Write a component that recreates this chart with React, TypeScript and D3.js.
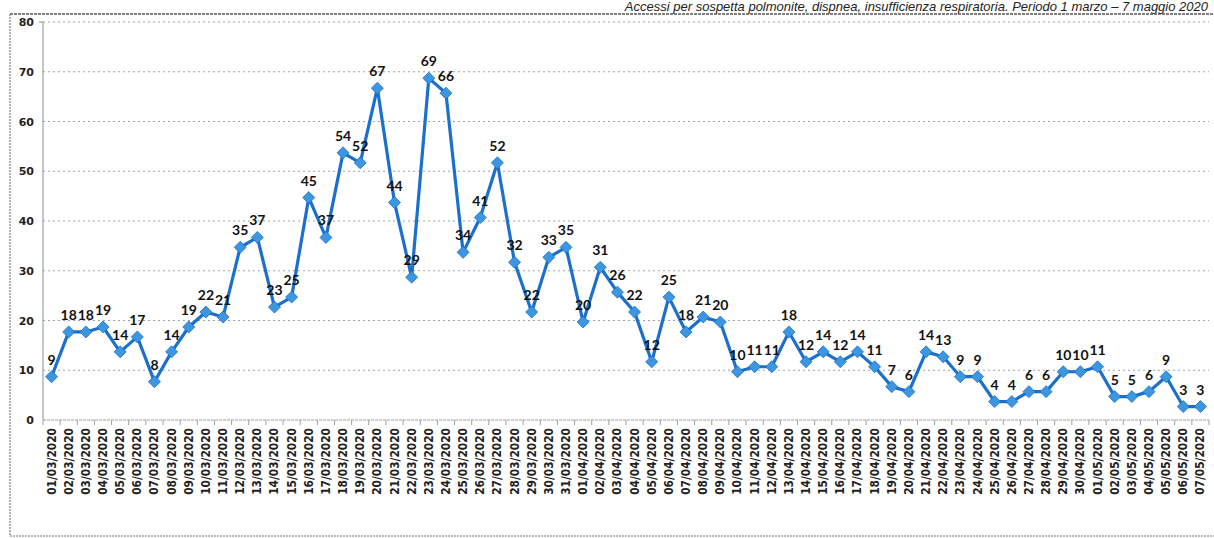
import React from "react";
import * as d3 from "d3";

const dates: string[] = [
  "01/03/2020","02/03/2020","03/03/2020","04/03/2020","05/03/2020","06/03/2020","07/03/2020","08/03/2020","09/03/2020","10/03/2020",
  "11/03/2020","12/03/2020","13/03/2020","14/03/2020","15/03/2020","16/03/2020","17/03/2020","18/03/2020","19/03/2020","20/03/2020",
  "21/03/2020","22/03/2020","23/03/2020","24/03/2020","25/03/2020","26/03/2020","27/03/2020","28/03/2020","29/03/2020","30/03/2020",
  "31/03/2020","01/04/2020","02/04/2020","03/04/2020","04/04/2020","05/04/2020","06/04/2020","07/04/2020","08/04/2020","09/04/2020",
  "10/04/2020","11/04/2020","12/04/2020","13/04/2020","14/04/2020","15/04/2020","16/04/2020","17/04/2020","18/04/2020","19/04/2020",
  "20/04/2020","21/04/2020","22/04/2020","23/04/2020","24/04/2020","25/04/2020","26/04/2020","27/04/2020","28/04/2020","29/04/2020",
  "30/04/2020","01/05/2020","02/05/2020","03/05/2020","04/05/2020","05/05/2020","06/05/2020","07/05/2020",
];

const values: number[] = [
  9, 18, 18, 19, 14, 17, 8, 14, 19, 22,
  21, 35, 37, 23, 25, 45, 37, 54, 52, 67,
  44, 29, 69, 66, 34, 41, 52, 32, 22, 33,
  35, 20, 31, 26, 22, 12, 25, 18, 21, 20,
  10, 11, 11, 18, 12, 14, 12, 14, 11, 7,
  6, 14, 13, 9, 9, 4, 4, 6, 6, 10,
  10, 11, 5, 5, 6, 9, 3, 3,
];

const yTicks: number[] = [0, 10, 20, 30, 40, 50, 60, 70, 80];

const title = "Accessi per sospetta polmonite, dispnea, insufficienza respiratoria. Periodo 1 marzo – 7 maggio 2020";

export default function App() {
  const W = 1214, H = 538;
  const left = 43, right = 1209, top = 22, bottom = 420;
  const x = d3.scaleBand<string>().domain(dates).range([left, right]).padding(0);
  const y = d3.scaleLinear().domain([0, 80]).range([bottom, top]);
  const cx = (d: string) => (x(d) as number) + x.bandwidth() / 2;
  const pts = dates.map((d, i) => [cx(d), y(values[i] - 0.3)] as [number, number]);
  const line = d3.line().x((p) => p[0]).y((p) => p[1])(pts) as string;
  const tickXs = dates.map((d) => x(d) as number).concat([right]);
  const ds = 6;

  return (
    <svg width={W} height={H} style={{ position: "absolute", left: 0, top: 0, background: "#fff" }}>
      <rect x={0} y={0} width={W} height={H} fill="#fff" />
      <text x={1208} y={11} textAnchor="end" fontFamily="Liberation Sans, Arial, sans-serif" fontStyle="italic" fontSize={13} fill="#222">
        {title}
      </text>
      {/* frame */}
      <line x1={10} x2={W} y1={14} y2={14} stroke="#555" strokeWidth={1.3} strokeDasharray="3 1" />
      <line x1={10} x2={10} y1={14} y2={536} stroke="#666" strokeWidth={1} strokeDasharray="2 1" />
      <line x1={10} x2={W} y1={536} y2={536} stroke="#777" strokeWidth={1} strokeDasharray="2 1" />
      {/* grid */}
      {yTicks.filter((t) => t > 0).map((t) => (
        <line key={t} x1={left} x2={right} y1={y(t)} y2={y(t)} stroke="#9aa3ad" strokeWidth={1} strokeDasharray="2 3" />
      ))}
      {/* axes */}
      <line x1={left} x2={left} y1={top} y2={bottom} stroke="#9aa0a8" strokeWidth={1.2} />
      <line x1={left - 4} x2={left} y1={top} y2={top} stroke="#9aa0a8" strokeWidth={1.2} />
      <line x1={left} x2={right} y1={bottom} y2={bottom} stroke="#9aa0a8" strokeWidth={1.2} strokeDasharray="3 1" />
      {tickXs.map((tx, i) => (
        <line key={i} x1={tx} x2={tx} y1={bottom} y2={bottom + 5} stroke="#9aa0a8" strokeWidth={1} />
      ))}
      {yTicks.map((t) => (
        <text key={t} x={34} y={y(t) + 4} textAnchor="end" fontFamily="DejaVu Sans, sans-serif" fontWeight="bold" fontSize={11} fill="#222">
          {t}
        </text>
      ))}
      {dates.map((d) => (
        <text key={d} transform={`translate(${cx(d) + 4},${bottom + 8}) rotate(-90)`} textAnchor="end"
          fontFamily="DejaVu Sans Condensed, DejaVu Sans, sans-serif" fontWeight="bold" fontSize={11.8} fill="#222">
          {d}
        </text>
      ))}
      {/* series */}
      <path d={line} fill="none" stroke="#1b6fcd" strokeWidth={3.2} strokeLinejoin="round" />
      {pts.map((p, i) => (
        <path key={i} d={`M${p[0]},${p[1] - ds}L${p[0] + ds},${p[1]}L${p[0]},${p[1] + ds}L${p[0] - ds},${p[1]}Z`}
          fill="#3d97e0" stroke="#1b6fcd" strokeWidth={0.8} />
      ))}
      {pts.map((p, i) => (
        <text key={i} x={p[0]} y={p[1] - 12} textAnchor="middle" fontFamily="Lato, sans-serif" fontWeight="bold" fontSize={14} fill="#111">
          {values[i]}
        </text>
      ))}
    </svg>
  );
}
